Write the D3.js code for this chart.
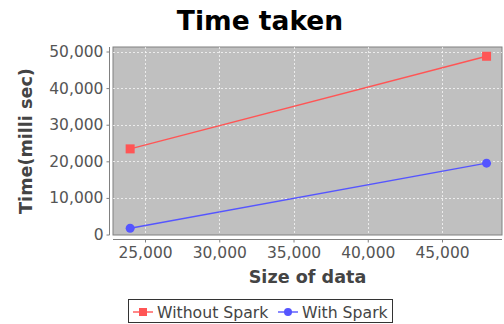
<!DOCTYPE html>
<html><head><meta charset="utf-8">
<script src="https://cdn.jsdelivr.net/npm/d3@7"></script>
<style>body{margin:0;background:#fff}svg{display:block}</style>
</head><body>
<script>
const sizes = [24000, 48000];
const withoutSpark = [23400, 48700];
const withSpark = [1700, 19500];
const xTicks = [25000, 30000, 35000, 40000, 45000];
const yTicks = [0, 10000, 20000, 30000, 40000, 50000];
const seriesNames = ["Without Spark", "With Spark"];
const colors = ["#ff5555", "#5555ff"];

const W = 504, H = 324;
const svg = d3.select("body").append("svg").attr("width", W).attr("height", H);
const font = "DejaVu Sans, sans-serif";

const px0 = 113, px1 = 502, py0 = 47, py1 = 235;
const x = d3.scaleLinear().domain([22845, 49040]).range([px0, px1]);
const y = d3.scaleLinear().domain([-130, 51230]).range([py1, py0]);

// title
svg.append("text").attr("x", 260).attr("y", 30).attr("text-anchor", "middle")
  .attr("font-family", font).attr("font-weight", "bold").attr("font-size", 26.5)
  .attr("fill", "#000").text("Time taken");

// plot background
svg.append("rect").attr("x", px0).attr("y", py0).attr("width", px1 - px0).attr("height", py1 - py0)
  .attr("fill", "#c0c0c0").attr("stroke", "#808080").attr("stroke-width", 1);

// gridlines
svg.append("g").selectAll("line").data(yTicks.filter(d => d > 0)).join("line")
  .attr("x1", px0).attr("x2", px1).attr("y1", d => Math.round(y(d)) + 0.5).attr("y2", d => Math.round(y(d)) + 0.5)
  .attr("stroke", "#fff").attr("stroke-opacity", 0.7).attr("stroke-dasharray", "2,2").attr("stroke-width", 1);
svg.append("g").selectAll("line").data(xTicks).join("line")
  .attr("y1", py0).attr("y2", py1).attr("x1", d => Math.round(x(d)) + 0.5).attr("x2", d => Math.round(x(d)) + 0.5)
  .attr("stroke", "#fff").attr("stroke-opacity", 0.7).attr("stroke-dasharray", "2,2").attr("stroke-width", 1);

// axes
const fmt = d3.format(",");
const yAxis = d3.axisLeft(y).tickValues(yTicks).tickFormat(fmt).tickSize(3).tickPadding(3);
const gy = svg.append("g").attr("transform", "translate(109.5,0)").call(yAxis);
const xAxis = d3.axisBottom(x).tickValues(xTicks).tickFormat(fmt).tickSize(3).tickPadding(4);
const gx = svg.append("g").attr("transform", "translate(0,239.5)").call(xAxis);
[gx, gy].forEach(g => {
  g.select(".domain").attr("stroke", "#808080");
  g.selectAll(".tick line").attr("stroke", "#808080");
  g.selectAll(".tick text").attr("font-family", font).attr("font-size", 15.5).attr("fill", "#555");
});
gy.select(".domain").attr("d", `M-0,${py0}V${py1}`);
gx.select(".domain").attr("d", `M${px0},0H${px1}`);

// axis labels
svg.append("text").attr("x", (px0 + px1) / 2).attr("y", 283).attr("text-anchor", "middle")
  .attr("font-family", font).attr("font-weight", "bold").attr("font-size", 17.6)
  .attr("fill", "#444").text("Size of data");
svg.append("text").attr("transform", `translate(32,${(py0 + py1) / 2}) rotate(-90)`).attr("text-anchor", "middle")
  .attr("font-family", font).attr("font-weight", "bold").attr("font-size", 17.6)
  .attr("fill", "#444").text("Time(milli sec)");

// series
const series = [withoutSpark, withSpark];
const line = d3.line().x((d, i) => x(sizes[i])).y(d => y(d));
series.forEach((vals, si) => {
  svg.append("path").datum(vals).attr("d", line).attr("fill", "none")
    .attr("stroke", colors[si]).attr("stroke-width", 1.4);
});
svg.append("g").selectAll("rect").data(withoutSpark).join("rect")
  .attr("x", (d, i) => x(sizes[i]) - 4.5).attr("y", d => y(d) - 4.5)
  .attr("width", 9).attr("height", 9).attr("fill", colors[0]);
svg.append("g").selectAll("circle").data(withSpark).join("circle")
  .attr("cx", (d, i) => x(sizes[i])).attr("cy", d => y(d)).attr("r", 4.5).attr("fill", colors[1]);

// legend
const lg = svg.append("g");
lg.append("rect").attr("x", 128.5).attr("y", 299.5).attr("width", 264).attr("height", 23)
  .attr("fill", "#fff").attr("stroke", "#333").attr("stroke-width", 1);
const items = [{x0: 133, tx: 157}, {x0: 278, tx: 302}];
items.forEach((it, i) => {
  lg.append("line").attr("x1", it.x0).attr("x2", it.x0 + 20).attr("y1", 312).attr("y2", 312)
    .attr("stroke", colors[i]).attr("stroke-width", 1.4);
  if (i === 0) {
    lg.append("rect").attr("x", it.x0 + 10 - 4).attr("y", 308).attr("width", 8).attr("height", 8).attr("fill", colors[i]);
  } else {
    lg.append("circle").attr("cx", it.x0 + 10).attr("cy", 312).attr("r", 4).attr("fill", colors[i]);
  }
  lg.append("text").attr("x", it.tx).attr("y", 318).attr("font-family", font).attr("font-size", 15.7)
    .attr("fill", "#444").text(seriesNames[i]);
});
</script>
</body></html>
